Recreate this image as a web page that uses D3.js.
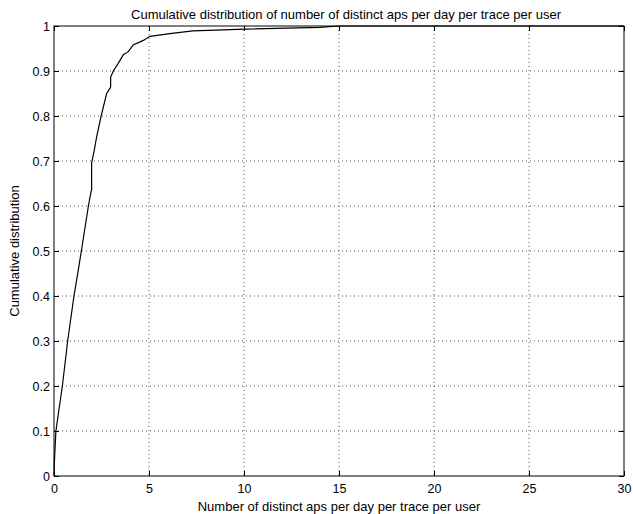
<!DOCTYPE html>
<html><head><meta charset="utf-8">
<script src="https://cdn.jsdelivr.net/npm/d3@7"></script>
<style>body{margin:0;background:#fff}svg{display:block}text{font-family:"Liberation Sans",Arial,sans-serif;fill:#000}</style>
</head><body><svg id="c" width="633" height="514"></svg>
<script>
const xValues = [0, 0.02, 0.1, 0.44, 0.72, 1.05, 1.28, 1.44, 1.81, 1.95, 1.98, 1.98, 2.12, 2.25, 2.47, 2.77, 2.95, 2.98, 2.98, 3.12, 3.38, 3.65, 3.91, 4.17, 4.7, 5.05, 6.1, 7.3, 10.05, 14, 15, 30];
const yValues = [0, 0.03, 0.1, 0.2, 0.3, 0.4, 0.458, 0.5, 0.6, 0.632, 0.636, 0.695, 0.724, 0.755, 0.798, 0.85, 0.862, 0.865, 0.886, 0.9, 0.917, 0.936, 0.943, 0.958, 0.968, 0.977, 0.983, 0.989, 0.993, 0.997, 1, 1];
const xTicks = [0, 5, 10, 15, 20, 25, 30];
const yTicks = [0, 0.1, 0.2, 0.3, 0.4, 0.5, 0.6, 0.7, 0.8, 0.9, 1];
const title = "Cumulative distribution of number of distinct aps per day per trace per user";
const xLabel = "Number of distinct aps per day per trace per user";
const yLabel = "Cumulative distribution";

const L = 54, R = 624, T = 26, B = 476;
const svg = d3.select("#c");
const x = d3.scaleLinear().domain([0, 30]).range([L, R]);
const y = d3.scaleLinear().domain([0, 1]).range([B, T]);

// grid
const g = svg.append("g");
xTicks.slice(1, -1).forEach(t => g.append("line").attr("x1", x(t)).attr("x2", x(t)).attr("y1", T).attr("y2", B)
  .attr("stroke", "#555").attr("stroke-width", 1).attr("stroke-dasharray", "1,3"));
yTicks.slice(1, -1).forEach(t => g.append("line").attr("x1", L).attr("x2", R).attr("y1", y(t)).attr("y2", y(t))
  .attr("stroke", "#555").attr("stroke-width", 1).attr("stroke-dasharray", "1,3"));

// axes
const ax = d3.axisBottom(x).tickValues(xTicks).tickFormat(d3.format("d")).tickSizeInner(-5).tickSizeOuter(0).tickPadding(8);
const axT = d3.axisTop(x).tickValues(xTicks).tickFormat("").tickSizeInner(-5).tickSizeOuter(0);
const ay = d3.axisLeft(y).tickValues(yTicks).tickFormat(d => d === 0 ? "0" : d === 1 ? "1" : d3.format(".1f")(d)).tickSizeInner(-5).tickSizeOuter(0).tickPadding(4);
const ayR = d3.axisRight(y).tickValues(yTicks).tickFormat("").tickSizeInner(-5).tickSizeOuter(0);
function style(sel) {
  sel.selectAll("path").remove();
  sel.selectAll("line").attr("stroke", "#000");
  sel.selectAll("text").style("font-size", "12.5px").attr("fill", "#000");
}
svg.append("g").attr("transform", `translate(0,${B})`).call(ax).call(style);
svg.append("g").attr("transform", `translate(0,${T})`).call(axT).call(style);
svg.append("g").attr("transform", `translate(${L},0)`).call(ay).call(style);
svg.append("g").attr("transform", `translate(${R},0)`).call(ayR).call(style);

// curve
const pts = xValues.map((v, i) => [v, yValues[i]]);
svg.append("path").datum(pts).attr("fill", "none").attr("stroke", "#000").attr("stroke-width", 1.2)
  .attr("d", d3.line().x(d => x(d[0])).y(d => y(d[1])));

// box
svg.append("rect").attr("x", L).attr("y", T).attr("width", R - L).attr("height", B - T)
  .attr("fill", "none").attr("stroke", "#000").attr("stroke-width", 1);

svg.append("text").attr("x", 346).attr("y", 19).attr("text-anchor", "middle").style("font-size", "13px").text(title);
svg.append("text").attr("x", (L + R) / 2).attr("y", 511).attr("text-anchor", "middle").style("font-size", "13px").text(xLabel);
svg.append("text").attr("transform", `translate(19,${(T + B) / 2}) rotate(-90)`).attr("text-anchor", "middle").style("font-size", "13px").text(yLabel);
</script></body></html>
